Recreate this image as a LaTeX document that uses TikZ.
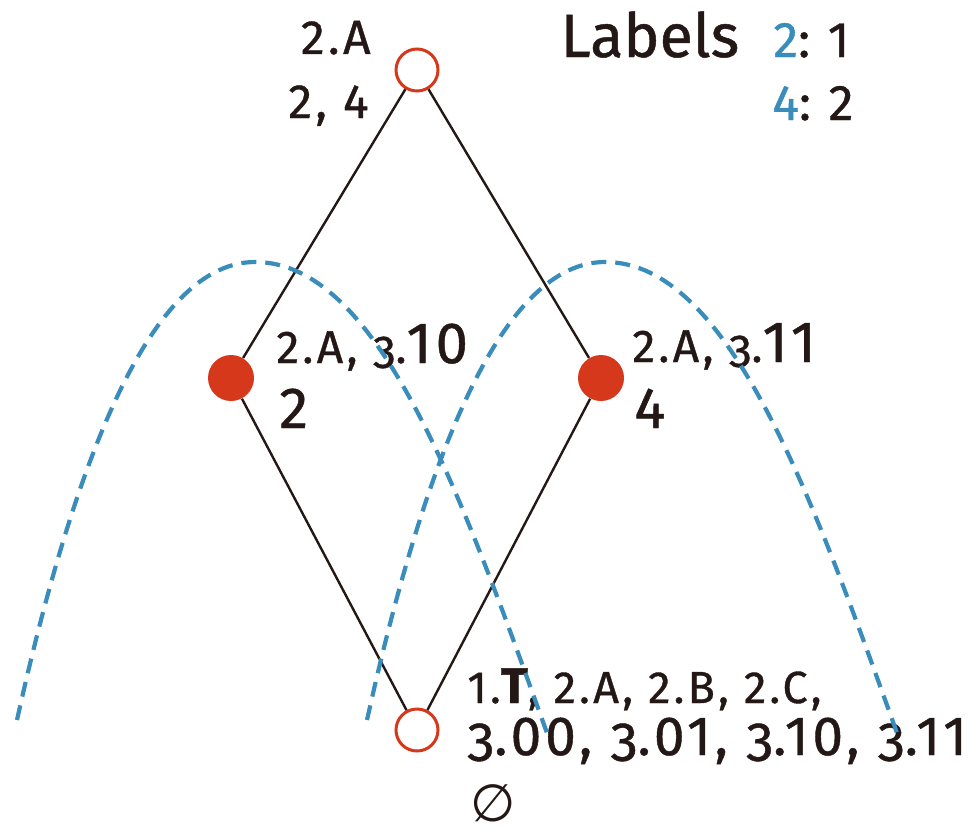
\documentclass[tikz,border=0pt]{standalone}
\usepackage{fontspec}
\setmainfont[FakeBold=0.8]{Fira Sans}
\newfontfamily\spaced[LetterSpace=7, FakeBold=0.8]{Fira Sans}
\newfontfamily\osf[Numbers=OldStyle, LetterSpace=7, FakeBold=0.8]{Fira Sans}
\newfontfamily\symfont{DejaVu Sans}
\usepackage{xcolor}
\usepackage{tikz}
\definecolor{inkblack}{HTML}{231815}
\definecolor{nodered}{HTML}{D5381A}
\definecolor{arcblue}{HTML}{3A8DBB}
\tikzset{every node/.append style={text=inkblack, inner sep=0pt}}
\newcommand{\thr}{{\osf 3}}
\newcommand{\bigdg}[1]{{\fontsize{29}{33}\selectfont #1}}

\begin{document}
\begin{tikzpicture}[x=0.5pt, y=-0.5pt,
    opennode/.style={circle, draw=nodered, line width=1.5pt, fill=white, minimum size=21pt},
    fullnode/.style={circle, fill=nodered, minimum size=23pt},
    edge/.style={draw=inkblack, line width=1.2pt},
    labelarc/.style={draw=arcblue, line width=2.1pt, dash pattern=on 7.5pt off 4.5pt},
    toptxt/.style={font=\spaced\fontsize{24}{28}\selectfont},
    midtxt/.style={font=\spaced\fontsize{23}{27}\selectfont},
    bottxt/.style={font=\spaced\fontsize{22.5}{26}\selectfont},
    keytxt/.style={font=\fontsize{25}{29}\selectfont}]
    \useasboundingbox (0,0) rectangle (979,835);
    % the four elements
    \node[opennode] (top) at (417,70) {};
    \node[fullnode] (left) at (231,378) {};
    \node[fullnode] (right) at (601,378) {};
    \node[opennode] (bot) at (417,730) {};
    \draw[edge] (top) -- (left);
    \draw[edge] (top) -- (right);
    \draw[edge] (left) -- (bot);
    \draw[edge] (right) -- (bot);
    % texts at the elements
    \node[toptxt, anchor=base east] (topA) at (371,54) {2.A};
    \node[toptxt, anchor=base east] (topN) at (369,118) {2, 4};
    \node[midtxt, anchor=base west] (leftA) at (276,363) {2.A, \thr.\bigdg{10}};
    \node[midtxt, anchor=base west] (leftN) at (279,428) {\bigdg{2}};
    \node[midtxt, anchor=base west] (rightA) at (632,362) {2.A, \thr.\bigdg{11}};
    \node[midtxt, anchor=base west] (rightN) at (634,428) {\bigdg{4}};
    \node[bottxt, anchor=base west] (botA) at (467,703) {1.{\fontsize{25}{29}\selectfont\bfseries T}, 2.A, 2.B, 2.C,};
    \node[bottxt, font=\spaced\fontsize{27.5}{31}\selectfont, anchor=base west] (botB) at (467,755) {\thr.00, \thr.01, \thr.10, \thr.11};
    \node[font=\symfont\fontsize{26}{30}\selectfont] (empty) at (493,803) {∅};
    % the key
    \node[font=\fontsize{30.5}{35}\selectfont, anchor=base west] (key) at (560,57) {Labels};
    \node[keytxt, anchor=base west] (keyA) at (773,57) {\textcolor{arcblue}{2}: 1};
    \node[keytxt, anchor=base west] (keyB) at (772,120) {\textcolor{arcblue}{4}: 2};
    % the two label arcs
    \draw[labelarc] (17,720) .. controls (78,445) and (155,262) .. (255,262)
        .. controls (380,262) and (463,500) .. (547,733);
    \draw[labelarc] (367,720) .. controls (428,445) and (505,262) .. (605,262)
        .. controls (730,262) and (813,500) .. (897,733);
\end{tikzpicture}
\end{document}
